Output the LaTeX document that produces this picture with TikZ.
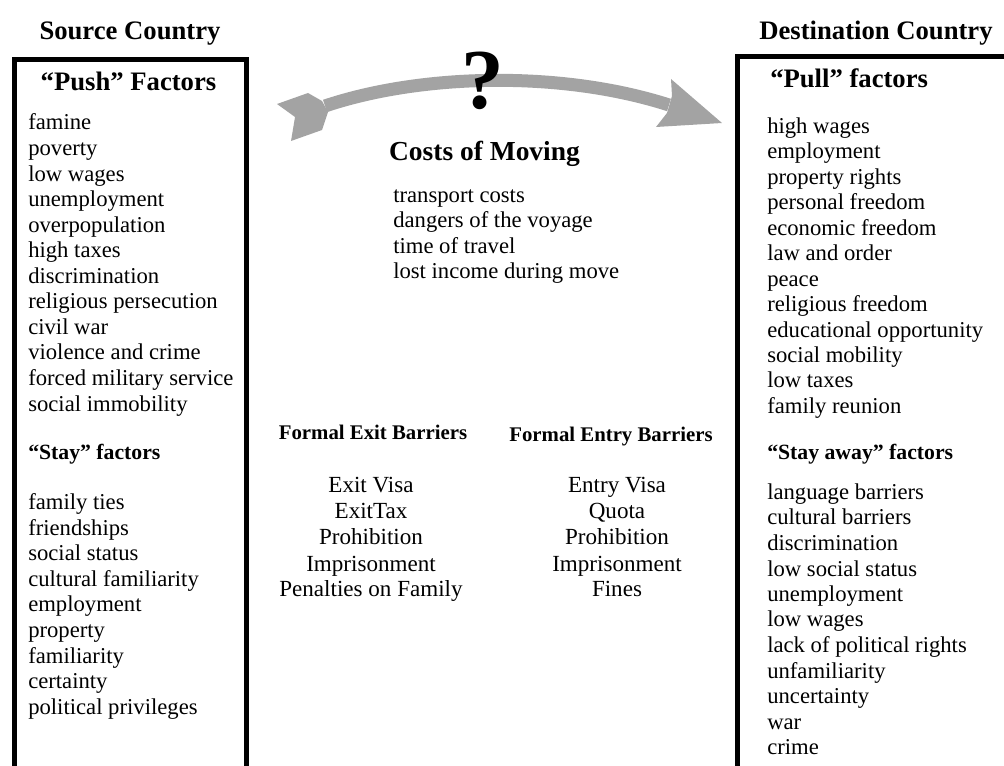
\documentclass[tikz,border=0pt]{standalone}
\usepackage{fontspec}
\setmainfont{Liberation Serif}
\usepackage{xcolor}
\definecolor{arrowgray}{RGB}{163,163,163}

\begin{document}
\begin{tikzpicture}[x=0.75pt,y=-0.75pt,
    item/.style={anchor=base west,inner sep=0pt,font=\fontsize{17}{19}\selectfont},
    citem/.style={anchor=base,inner sep=0pt,font=\fontsize{17.3}{19}\selectfont},
    head/.style={anchor=base,inner sep=0pt,font=\fontsize{20}{22}\selectfont\bfseries},
    subhead/.style={anchor=base,inner sep=0pt,font=\fontsize{15.6}{18}\selectfont\bfseries},
    frame/.style={line width=3.75pt}]
  \useasboundingbox (0,0) rectangle (1004,766);

  % country boxes, open at the bottom
  \draw[frame] (14,766) -- (14,60) -- (246,60) -- (246,766);
  \draw[frame] (737,766) -- (737,57) -- (1004,57);
  \node[head] (src) at (130,40) {Source Country};
  \node[head] (dst) at (876,40) {Destination Country};

  % the gray arrow between the countries
  \coordinate (tail) at (325,106);
  \coordinate (tip) at (669,105);
  \draw[arrowgray,line width=9.75pt] (tail) .. controls (420,74) and (560,70) .. (tip);
  \fill[arrowgray] (277,104) -- (308,93) -- (322,101) -- (328,112) -- (322,130)
    -- (291,141) -- (295,117) -- cycle;
  \fill[arrowgray] (671,79) -- (722,123) -- (656,127) -- (667,113) -- (672,96) -- cycle;
  \node[anchor=base,inner sep=0pt,font=\fontsize{64}{64}\selectfont\bfseries] (quest) at (483,109) {?};

  % source country
  \node[head] (push) at (128.5,90.5) {“Push” Factors};
  \foreach \t [count=\i] in {famine,poverty,low wages,unemployment,overpopulation,
      high taxes,discrimination,religious persecution,civil war,violence and crime,
      forced military service,social immobility}
    \node[item] (push\i) at (28,{130+25.55*(\i-1)}) {\t};
  \node[item,font=\fontsize{16.3}{18}\selectfont\bfseries] (stay) at (28,459.5) {“Stay” factors};
  \foreach \t [count=\i] in {family ties,friendships,social status,cultural familiarity,
      employment,property,familiarity,certainty,political privileges}
    \node[item] (stay\i) at (28,{510+25.5*(\i-1)}) {\t};

  % costs of moving
  \node[head,font=\fontsize{20.6}{22}\selectfont\bfseries] (costs) at (484.5,160.5) {Costs of Moving};
  \foreach \t [count=\i] in {transport costs,dangers of the voyage,time of travel,
      lost income during move}
    \node[item] (cost\i) at (393,{202.5+25.3*(\i-1)}) {\t};

  % formal barriers
  \node[subhead] (exit) at (373,440) {Formal Exit Barriers};
  \node[subhead] (entry) at (611,442) {Formal Entry Barriers};
  \foreach \t [count=\i] in {Exit Visa,ExitTax,Prohibition,Imprisonment,Penalties on Family}
    \node[citem] (exit\i) at (371,{493+26*(\i-1)}) {\t};
  \foreach \t [count=\i] in {Entry Visa,Quota,Prohibition,Imprisonment,Fines}
    \node[citem] (entry\i) at (617,{493+26*(\i-1)}) {\t};

  % destination country
  \node[head,anchor=base west] (pull) at (770,87.5) {“Pull” factors};
  \foreach \t [count=\i] in {high wages,employment,property rights,personal freedom,
      economic freedom,law and order,peace,religious freedom,educational opportunity,
      social mobility,low taxes,family reunion}
    \node[item] (pull\i) at (767,{133.5+25.45*(\i-1)}) {\t};
  \node[item,font=\fontsize{16.3}{18}\selectfont\bfseries] (away) at (767,459.5) {“Stay away” factors};
  \foreach \t [count=\i] in {language barriers,cultural barriers,discrimination,
      low social status,unemployment,low wages,lack of political rights,unfamiliarity,
      uncertainty,war,crime}
    \node[item] (away\i) at (767,{499.5+25.5*(\i-1)}) {\t};
\end{tikzpicture}
\end{document}
